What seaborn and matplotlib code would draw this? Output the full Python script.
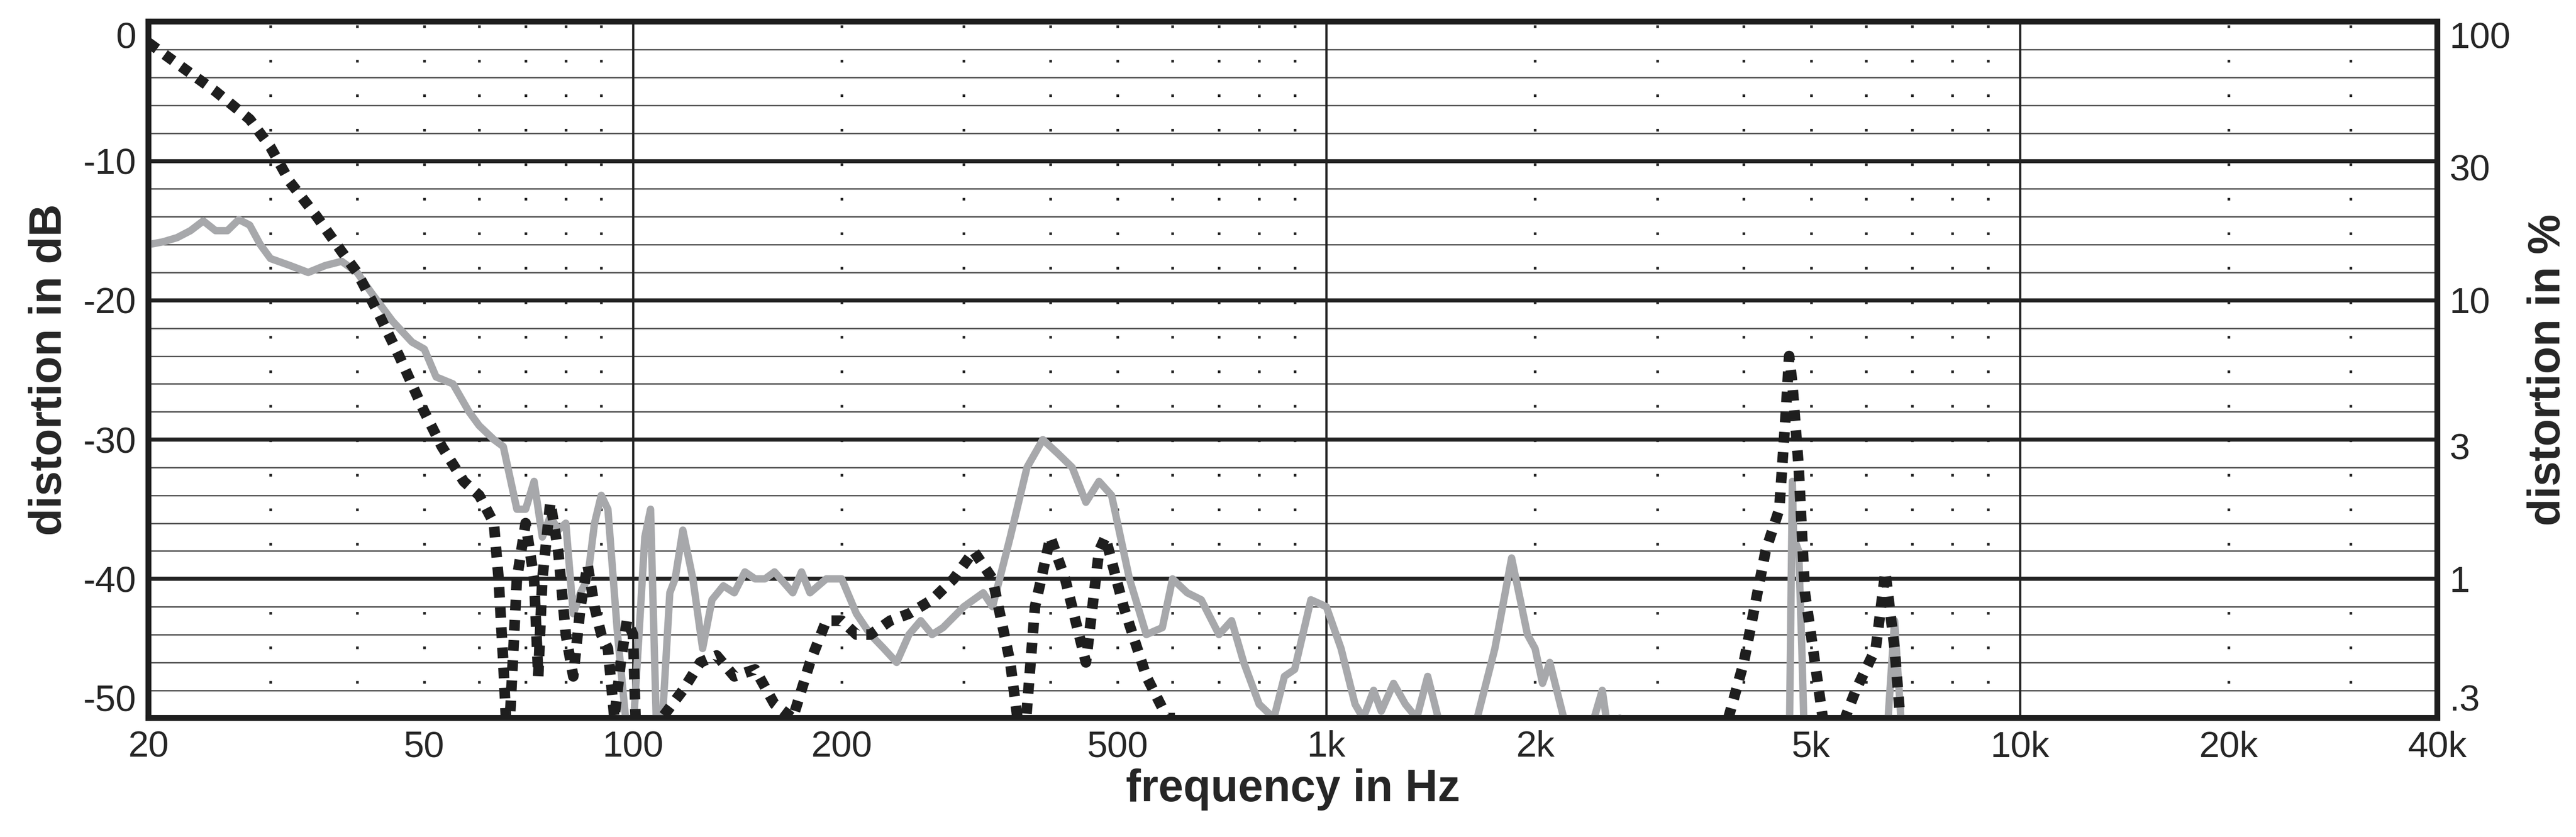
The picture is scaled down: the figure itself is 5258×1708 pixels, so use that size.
import numpy as np
import pandas as pd
import matplotlib
matplotlib.use("Agg")
import matplotlib.pyplot as plt
import seaborn as sns

# dotted black series (frequency Hz, distortion dB)
k2_freq = [20, 22, 25, 28, 30, 32, 35, 38, 40, 43, 46, 50, 53, 57, 60, 63, 64, 65, 66,
           68, 70, 72, 73, 74, 76, 78, 80, 82, 84, 86, 88, 90, 92, 94, 96, 98, 100, 101,
           105, 110, 118, 125, 132, 140, 150, 160, 170, 180, 190, 200, 210, 220, 235, 250,
           270, 290, 310, 330, 350, 365, 380, 400, 420, 450, 470, 480, 510, 550, 590, 620, 660,
           3700, 3800, 4000, 4300, 4500, 4600, 4650, 4700, 4800, 4900, 5000, 5200, 5500,
           5800, 6200, 6400, 6600, 6800]
k2_db = [-1.5, -3, -5, -7, -9, -11.5, -14, -16.5, -18, -21, -24, -28, -30.5, -33, -34, -36, -40, -46, -53,
         -40, -36, -40, -47, -40, -34.5, -38, -44, -47, -42, -39, -42, -44, -45, -50, -46, -43, -44, -51,
         -53, -50, -48, -46, -45.5, -47, -46.5, -49, -50, -46, -43, -43, -44, -44, -43, -42.5,
         -41.5, -40, -38, -40, -46, -53, -42, -37, -40, -46, -38, -37, -42, -47, -50, -50, -53,
         -53, -50, -46, -38, -35, -28, -24, -26, -32, -41, -44, -50, -51,
         -48, -45, -39.5, -45, -53]

# solid grey series
k3_freq = [20, 21, 22, 23, 24, 25, 26, 27, 28, 29, 30, 32, 34, 36, 38, 40, 42, 45, 48, 50,
           52, 55, 58, 60, 63, 65, 68, 70, 72, 74, 76, 78, 80, 82, 84, 86, 88, 90, 92, 95,
           98, 100, 102, 104, 106, 108, 110, 113, 115, 118, 122, 126, 130, 135, 140, 145, 150,
           155, 160, 170, 175, 180, 190, 200, 210, 220, 230, 240, 250, 260, 270, 280, 300, 320,
           330, 350, 370, 390, 410, 430, 450, 470, 490, 520, 550, 580, 600, 630, 660, 700, 730,
           760, 800, 840, 870, 900, 950, 1000, 1050, 1100, 1130, 1170, 1200, 1250, 1300, 1350,
           1400, 1450, 1550, 1650, 1750, 1850, 1950, 2000, 2050, 2100, 2200, 2300, 2400, 2500,
           2550, 2650, 2700,
           4650, 4700, 4720, 4800, 4850, 4900,
           6400, 6600, 6800]
k3_db = [-16, -15.8, -15.5, -15, -14.3, -15, -15, -14.2, -14.6, -16, -17, -17.5, -18, -17.5, -17.2, -18, -19.5, -21.5, -23, -23.5,
         -25.5, -26, -28, -29, -30, -30.5, -35, -35, -33, -37, -35.5, -36.5, -36, -42.5, -41, -40, -36, -34, -35, -44,
         -51, -51, -44, -37, -35, -50, -51, -41, -40, -36.5, -40, -45, -41.5, -40.5, -41, -39.5, -40,
         -40, -39.5, -41, -39.5, -41, -40, -40, -42.5, -44, -45, -46, -44, -43, -44, -43.5, -42, -41,
         -42, -37, -32, -30, -31, -32, -34.5, -33, -34, -40, -44, -43.5, -40, -41, -41.5, -44, -43,
         -46, -49, -50, -47, -46.5, -41.5, -42, -45, -49, -50, -48, -49.5, -47.5, -49, -50,
         -47, -50, -51, -50, -45, -38.5, -44, -45, -47.5, -46, -50, -51, -51, -48,
         -51, -50, -53,
         -53, -33, -37, -38, -45, -53,
         -53, -43, -53]

x_ticks = [20, 50, 100, 200, 500, 1000, 2000, 5000, 10000, 20000, 40000]
x_labels = ["20", "50", "100", "200", "500", "1k", "2k", "5k", "10k", "20k", "40k"]
y_ticks = [0, -10, -20, -30, -40, -50]
y_labels = ["0", "-10", "-20", "-30", "-40", "-50"]
pct_values = [100, 30, 10, 3, 1, 0.3]
pct_labels = ["100", "30", "10", "3", "1", ".3"]

sns.set_style("white")
plt.rcParams["font.family"] = "sans-serif"
plt.rcParams["font.sans-serif"] = ["Liberation Sans", "Arial", "DejaVu Sans"]

fig = plt.figure(figsize=(5258 / 300, 1708 / 300), dpi=300)
ax = fig.add_axes([0.0576, 0.142, 0.8885, 0.832])

# grid
for v in np.arange(-50, 1, 2):
    major = (v % 10 == 0)
    ax.axhline(v, color="#222222" if major else "#555555", lw=2.0 if major else 0.7, zorder=1)
for dec in [10, 100, 1000, 10000]:
    for m in range(2, 10):
        f = dec * m
        if 20 < f < 40000:
            ax.axvline(f, color="#222222", lw=1.3, ls=(0, (1, 12)), zorder=1)
for f in [100, 1000, 10000]:
    ax.axvline(f, color="#222222", lw=1.1, zorder=1)

df2 = pd.DataFrame({"f": k2_freq, "db": k2_db})
df3 = pd.DataFrame({"f": k3_freq, "db": k3_db})
sns.lineplot(data=df3, x="f", y="db", ax=ax, color="#a7a8ab", lw=3.6, sort=False, zorder=3,
             estimator=None)
sns.lineplot(data=df2, x="f", y="db", ax=ax, color="#1e1e1e", lw=5.2, sort=False, zorder=4,
             estimator=None)
ax.lines[-1].set_linestyle((0, (1, 0.9)))
ax.lines[-1].set_dash_capstyle("butt")

ax.set_xscale("log")
ax.set_xlim(20, 40000)
ax.set_ylim(-50, 0)
ax.minorticks_off()
ax.set_xticks(x_ticks)
ax.set_xticklabels(x_labels, fontsize=18)
ax.set_yticks(y_ticks)
ax.set_yticklabels(y_labels, fontsize=18)
ax.tick_params(length=0, pad=6)
ax.get_yticklabels()[0].set_va("top")
ax.get_yticklabels()[-1].set_va("bottom")
ax.set_xlabel("frequency in Hz", fontsize=22, fontweight="bold", labelpad=2)
ax.set_ylabel("distortion in dB", fontsize=22, fontweight="bold", labelpad=6)
for s in ax.spines.values():
    s.set_linewidth(2.8)
    s.set_color("#1e1e1e")

ax2 = ax.twinx()
ax2.set_ylim(-50, 0)
ax2.set_yticks([max(20 * np.log10(p / 100), -50) for p in pct_values])
ax2.set_yticklabels(pct_labels, fontsize=18)
ax2.tick_params(length=0, pad=6)
ax2.get_yticklabels()[0].set_va("top")
ax2.get_yticklabels()[-1].set_va("bottom")
ax2.set_ylabel("distortion in %", fontsize=22, fontweight="bold", labelpad=8)
for s in ax2.spines.values():
    s.set_linewidth(2.8)
    s.set_color("#1e1e1e")

fig.savefig("out.png", dpi=300)
